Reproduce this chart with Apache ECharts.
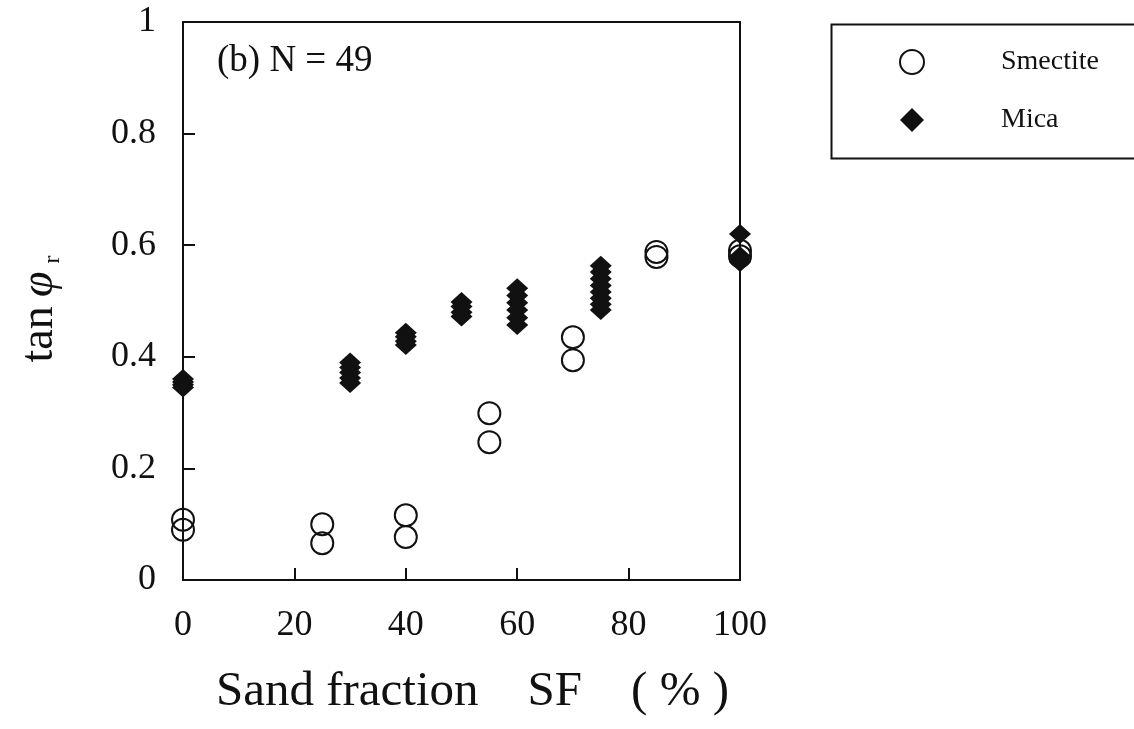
<!DOCTYPE html>
<html>
<head>
<meta charset="utf-8">
<script src="https://cdn.jsdelivr.net/npm/echarts@6/dist/echarts.min.js"></script>
<style>
  html, body { margin: 0; padding: 0; background: #fff; }
  #main { width: 1134px; height: 729px; }
</style>
</head>
<body>
<div id="main"></div>
<script>
// values: sand fraction SF (%) and tan(phi_r)
var smectiteSF = [0, 0, 25, 25, 40, 40, 55, 55, 70, 70, 85, 85, 100, 100];
var smectiteTan = [0.108, 0.09, 0.1, 0.066, 0.116, 0.077, 0.299, 0.247, 0.435, 0.394, 0.588, 0.579, 0.59, 0.58];

var micaSF = [0, 0, 0, 0, 30, 30, 30, 30, 30, 40, 40, 40, 40, 50, 50, 50, 50,
    60, 60, 60, 60, 60, 60, 75, 75, 75, 75, 75, 75, 75, 75, 100, 100, 100, 100];
var micaTan = [0.36, 0.355, 0.35, 0.345, 0.39, 0.381, 0.372, 0.362, 0.353, 0.443, 0.436, 0.428, 0.421,
    0.498, 0.49, 0.48, 0.472, 0.523, 0.51, 0.497, 0.484, 0.47, 0.457,
    0.563, 0.552, 0.54, 0.528, 0.516, 0.505, 0.494, 0.484, 0.62, 0.58, 0.575, 0.57];

var xTicks = [0, 20, 40, 60, 80, 100];
var seriesNames = ['Smectite', 'Mica'];
var panelNote = '(b) N = 49';

function pairs(xs, ys) {
    return xs.map(function (x, i) { return [x, ys[i]]; });
}

var chartDom = document.getElementById('main');
var myChart = echarts.init(chartDom);
var option;

var ink = '#111';
var serif = "'Liberation Serif', 'DejaVu Serif', serif";

option = {
    backgroundColor: '#fff',
    animation: false,
    textStyle: { fontFamily: serif, color: ink },
    title: {
        text: panelNote,
        left: 212,
        top: 38,
        textStyle: { fontFamily: serif, fontSize: 37, fontWeight: 'normal', color: ink }
    },
    grid: {
        left: 183,
        right: 394,
        top: 22,
        bottom: 149,
        show: true,
        borderColor: ink,
        borderWidth: 2
    },
    legend: {
        data: [
            { name: seriesNames[0], icon: 'circle', itemStyle: { color: 'transparent', borderColor: ink, borderWidth: 2, opacity: 1 } },
            { name: seriesNames[1], icon: 'diamond', itemStyle: { color: ink, borderWidth: 0, opacity: 1 } }
        ],
        orient: 'vertical',
        left: 899,
        top: 48,
        padding: 0,
        itemWidth: 24,
        itemHeight: 24,
        itemGap: 30,
        selectedMode: false,
        textStyle: { fontFamily: serif, fontSize: 28, color: ink, padding: [0, 0, 0, 72] }
    },
    graphic: [
        {
            type: 'rect',
            left: 829,
            top: 22,
            shape: { width: 320, height: 134 },
            style: { fill: 'none', stroke: ink, lineWidth: 2 }
        }
    ],
    xAxis: {
        type: 'value',
        min: 0,
        max: 100,
        interval: 20,
        name: 'Sand fraction\u00a0\u00a0\u00a0\u00a0SF\u00a0\u00a0\u00a0\u00a0(\u00a0%\u00a0)',
        nameLocation: 'middle',
        nameGap: 88,
        nameTextStyle: { fontFamily: serif, fontSize: 49, color: ink, padding: [0, 0, 0, 22] },
        axisLine: { show: true, lineStyle: { color: ink, width: 2 } },
        axisTick: { show: true, inside: true, length: 12, lineStyle: { color: ink, width: 2 } },
        axisLabel: {
            margin: 28,
            fontFamily: serif,
            fontSize: 36,
            color: ink,
            customValues: xTicks
        },
        splitLine: { show: false }
    },
    yAxis: {
        type: 'value',
        min: 0,
        max: 1,
        interval: 0.2,
        name: 'tan\u2009{phi|\u03c6}{sub|r}',
        nameLocation: 'middle',
        nameGap: 118,
        nameTextStyle: {
            fontFamily: serif,
            fontSize: 46,
            color: ink,
            padding: [0, 16, 0, 0],
            rich: {
                phi: { fontFamily: serif, fontSize: 46, fontStyle: 'italic', color: ink },
                sub: { fontFamily: serif, fontSize: 24, color: ink, padding: [26, 0, 0, 8] }
            }
        },
        axisLine: { show: true, lineStyle: { color: ink, width: 2 } },
        axisTick: { show: true, inside: true, length: 12, lineStyle: { color: ink, width: 2 } },
        axisLabel: { margin: 27, fontFamily: serif, fontSize: 36, color: ink },
        splitLine: { show: false }
    },
    series: [
        {
            name: seriesNames[0],
            type: 'scatter',
            symbol: 'circle',
            symbolSize: 22,
            clip: false,
            itemStyle: { color: 'transparent', borderColor: ink, borderWidth: 2, opacity: 1 },
            data: pairs(smectiteSF, smectiteTan)
        },
        {
            name: seriesNames[1],
            type: 'scatter',
            symbol: 'diamond',
            symbolSize: [22, 20],
            clip: false,
            itemStyle: { color: ink, opacity: 1 },
            data: pairs(micaSF, micaTan)
        }
    ]
};

option && myChart.setOption(option);
</script>
</body>
</html>
